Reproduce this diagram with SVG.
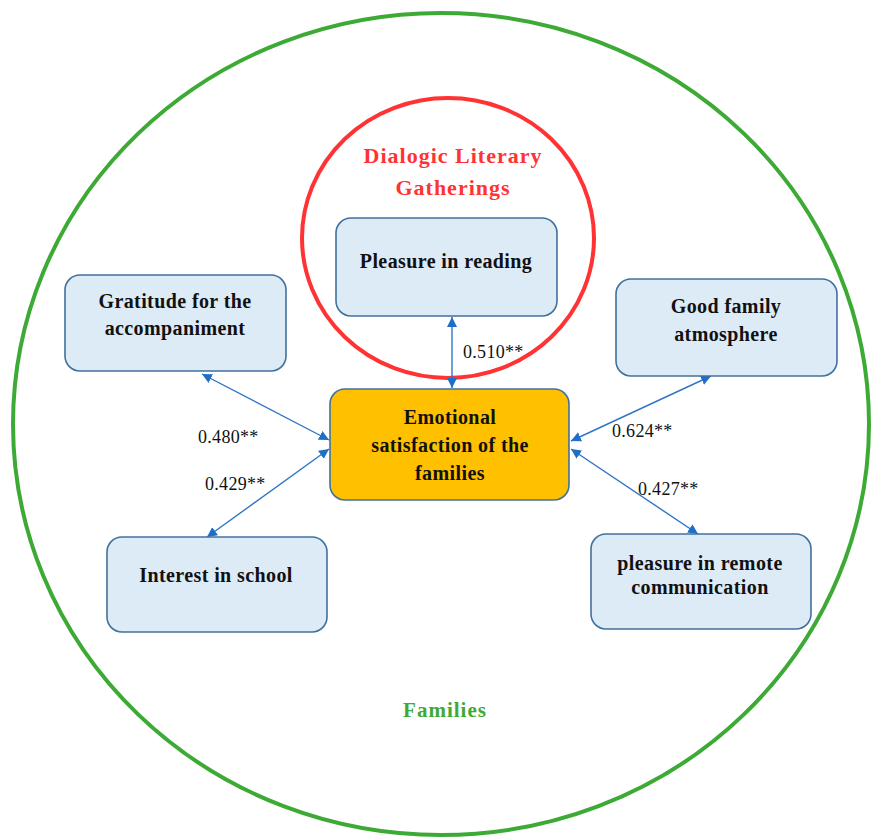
<svg xmlns="http://www.w3.org/2000/svg" width="874" height="839" viewBox="0 0 874 839">
<style>
.box{fill:#DDEBF7;stroke:#41719C;stroke-width:1.6}
.core{fill:#FFC000;stroke:#41719C;stroke-width:1.6}
.t{font-family:"Liberation Serif","Times New Roman",serif;font-weight:bold;font-size:20px;letter-spacing:0.4px;fill:#111;text-anchor:middle}
.n{font-family:"Liberation Serif","Times New Roman",serif;font-size:18px;letter-spacing:0.3px;fill:#111}
.c{stroke:#2F75C6;stroke-width:1.4;fill:none;marker-start:url(#ah);marker-end:url(#ah)}
</style>
<defs>
<marker id="ah" viewBox="0 0 10 10" refX="10" refY="5" markerWidth="10" markerHeight="10" markerUnits="userSpaceOnUse" orient="auto-start-reverse">
<path d="M0,0 L10,5 L0,10 z" fill="#1F6FC8"/>
</marker>
</defs>
<rect width="874" height="839" fill="#fff"/>
<g id="families">
<ellipse cx="441" cy="424" rx="428" ry="411" fill="none" stroke="#3DAA35" stroke-width="4"/>
<text x="445" y="717" class="t" style="fill:#3DAA35;font-size:21px;letter-spacing:1px">Families</text>
</g>
<g id="dlg">
<ellipse cx="448" cy="238" rx="146" ry="140" fill="none" stroke="#FF3333" stroke-width="4"/>
<text x="453" y="163" class="t" style="fill:#FF3333;font-size:22px;letter-spacing:1px">Dialogic Literary</text>
<text x="453" y="195" class="t" style="fill:#FF3333;font-size:22px;letter-spacing:1px">Gatherings</text>
</g>
<g id="connectors">
<line class="c" x1="452" y1="317" x2="452" y2="388"/>
<line class="c" x1="202" y1="374" x2="329" y2="440"/>
<line class="c" x1="329" y1="449" x2="207" y2="537"/>
<line class="c" x1="711" y1="376" x2="571" y2="441"/>
<line class="c" x1="571" y1="449" x2="698" y2="534"/>
</g>
<g id="labels">
<text class="n" x="463" y="358">0.510**</text>
<text class="n" x="198" y="443">0.480**</text>
<text class="n" x="205" y="490">0.429**</text>
<text class="n" x="612" y="437">0.624**</text>
<text class="n" x="638" y="495">0.427**</text>
</g>
<g id="reading">
<rect class="box" x="336" y="218" width="221" height="98" rx="15"/>
<text class="t" x="446" y="268">Pleasure in reading</text>
</g>
<g id="emotional">
<rect class="core" x="330" y="389" width="239" height="111" rx="15"/>
<text class="t" x="450" y="424">Emotional</text>
<text class="t" x="450" y="452">satisfaction of the</text>
<text class="t" x="450" y="480">families</text>
</g>
<g id="gratitude">
<rect class="box" x="65" y="275" width="221" height="96" rx="15"/>
<text class="t" x="175" y="308">Gratitude for the</text>
<text class="t" x="175" y="335">accompaniment</text>
</g>
<g id="atmosphere">
<rect class="box" x="616" y="279" width="221" height="97" rx="15"/>
<text class="t" x="726" y="313">Good family</text>
<text class="t" x="726" y="341">atmosphere</text>
</g>
<g id="school">
<rect class="box" x="107" y="537" width="220" height="95" rx="15"/>
<text class="t" x="216" y="582">Interest in school</text>
</g>
<g id="remote">
<rect class="box" x="591" y="534" width="220" height="95" rx="15"/>
<text class="t" x="700" y="570">pleasure in remote</text>
<text class="t" x="700" y="594">communication</text>
</g>
</svg>
